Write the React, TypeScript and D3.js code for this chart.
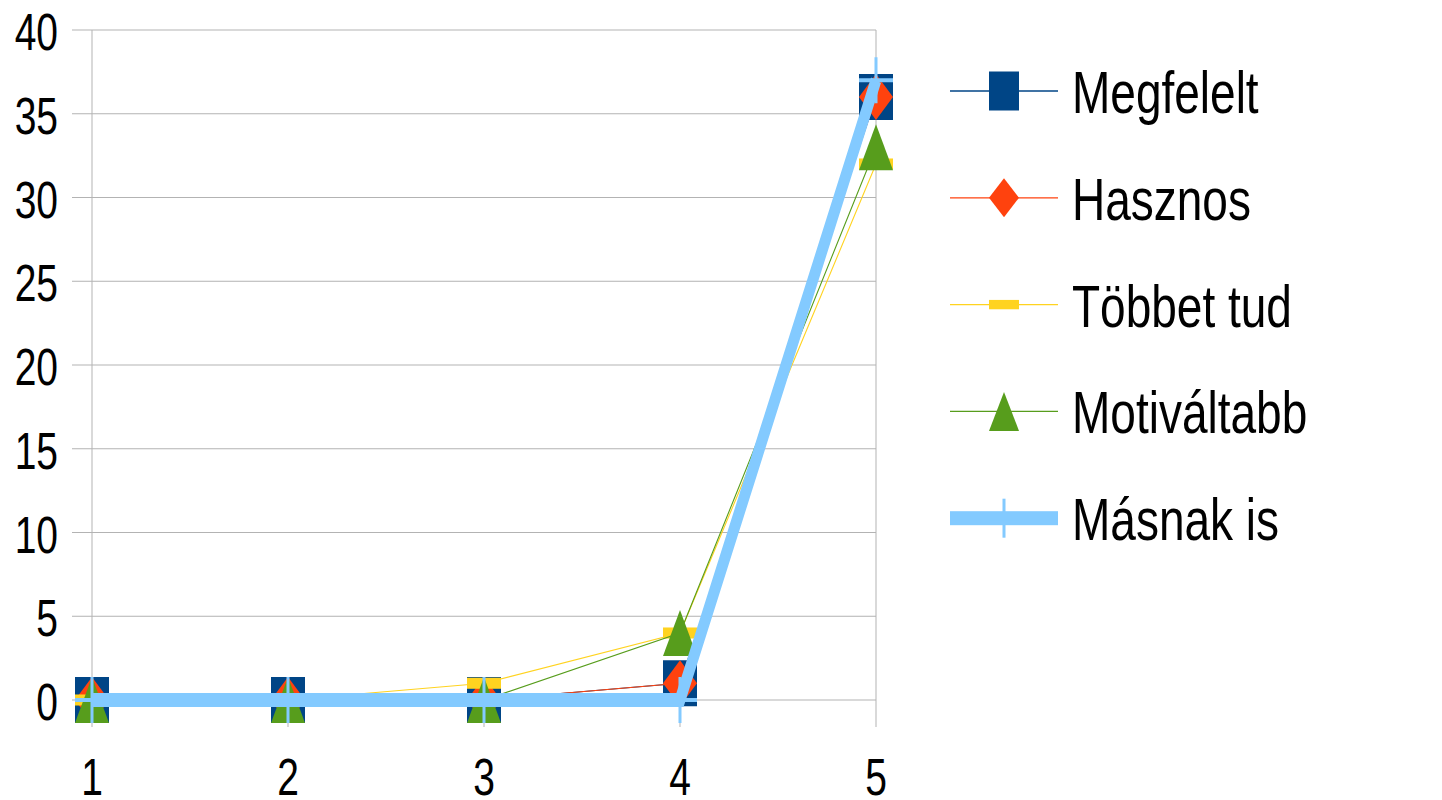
import React from "react";
import * as d3 from "d3";

const categories = ["1", "2", "3", "4", "5"];
const yTicks = [0, 5, 10, 15, 20, 25, 30, 35, 40];
const seriesNames = ["Megfelelt", "Hasznos", "Többet tud", "Motiváltabb", "Másnak is"];
const megfelelt = [0, 0, 0, 1, 36];
const hasznos = [0, 0, 0, 1, 36];
const tobbetTud = [0, 0, 1, 4, 32];
const motivaltabb = [0, 0, 0, 4, 33];
const masnakIs = [0, 0, 0, 0, 37];
const colors = ["#004586", "#ff420e", "#ffd320", "#579d1c", "#83caff"];
const markers = ["square", "diamond", "dash", "triangle", "plus"];

const S = 1.31; // vertical stretch
const FONT = "'Liberation Sans', Arial, sans-serif";

function Marker({ type, cx, cy, w, h, color }: any) {
  if (type === "square") return <rect x={cx - w / 2} y={cy - h / 2} width={w} height={h} fill={color} />;
  if (type === "diamond")
    return <polygon points={`${cx},${cy - h / 2} ${cx + w / 2},${cy} ${cx},${cy + h / 2} ${cx - w / 2},${cy}`} fill={color} />;
  if (type === "dash") {
    const dh = h * 0.24;
    return <rect x={cx - w / 2} y={cy - dh / 2} width={w} height={dh} fill={color} />;
  }
  if (type === "triangle")
    return <polygon points={`${cx},${cy - h / 2} ${cx + w / 2},${cy + h / 2} ${cx - w / 2},${cy + h / 2}`} fill={color} />;
  if (type === "plus")
    return (
      <g fill={color}>
        <rect x={cx - 1.5} y={cy - h / 2} width={3} height={h} />
        <rect x={cx - w / 2} y={cy - 2} width={w} height={4} />
      </g>
    );
  return null;
}

export default function App() {
  const data = [megfelelt, hasznos, tobbetTud, motivaltabb, masnakIs];
  const x = d3.scalePoint<string>().domain(categories).range([92, 876]);
  const y = d3.scaleLinear().domain([0, 40]).range([700, 30]);
  const thin = d3
    .line<number>()
    .x((_, i) => x(categories[i]) as number)
    .y((d) => y(d));
  const thick = d3
    .line<number>()
    .x((_, i) => x(categories[i]) as number)
    .y((d) => y(d) / S);

  const legendY = (i: number) => 91 + i * 106.8;
  const grid = "#b3b3b3";

  return (
    <svg
      width={1442}
      height={800}
      style={{ position: "absolute", left: 0, top: 0, background: "#fff" }}
    >
      <rect x={0} y={0} width={1442} height={800} fill="#fff" />
      {yTicks.map((t) => (
        <line key={t} x1={72} x2={876} y1={y(t)} y2={y(t)} stroke={grid} strokeWidth={1} />
      ))}
      <line x1={92} x2={92} y1={30} y2={727} stroke={grid} strokeWidth={1} />
      <line x1={876} x2={876} y1={30} y2={727} stroke={grid} strokeWidth={1} />
      {categories.slice(1, 4).map((c) => (
        <line key={c} x1={x(c)} x2={x(c)} y1={700} y2={727} stroke={grid} strokeWidth={1} />
      ))}
      {yTicks.map((t) => (
        <text
          key={t}
          transform={`translate(58,${y(t) + 20}) scale(1,${S})`}
          textAnchor="end"
          fontFamily={FONT}
          fontSize={39}
          fill="#000"
        >
          {t}
        </text>
      ))}
      {categories.map((c) => (
        <text
          key={c}
          transform={`translate(${x(c)},795) scale(1,${S})`}
          textAnchor="middle"
          fontFamily={FONT}
          fontSize={39}
          fill="#000"
        >
          {c}
        </text>
      ))}
      {data.map((vals, si) => (
        <g key={si}>
          {si < 4 ? (
            <path d={thin(vals) || ""} fill="none" stroke={colors[si]} strokeWidth={1.1} />
          ) : (
            <g transform={`scale(1,${S})`}>
              <path d={thick(vals) || ""} fill="none" stroke={colors[si]} strokeWidth={10.7} strokeLinejoin="miter" />
            </g>
          )}
          {vals.map((v, i) => (
            <Marker key={i} type={markers[si]} cx={x(categories[i])} cy={y(v)} w={34} h={46} color={colors[si]} />
          ))}
        </g>
      ))}
      {seriesNames.map((name, i) => (
        <g key={name}>
          {i < 4 ? (
            <line x1={950} x2={1058} y1={legendY(i)} y2={legendY(i)} stroke={colors[i]} strokeWidth={1.3} />
          ) : (
            <rect x={950} y={legendY(i) - 7} width={108} height={14} fill={colors[i]} />
          )}
          <Marker type={markers[i]} cx={1004} cy={legendY(i)} w={30} h={39} color={colors[i]} />
          <text
            transform={`translate(1072,${legendY(i) + 22}) scale(1,1.28)`}
            fontFamily={FONT}
            fontSize={46}
            fill="#000"
          >
            {name}
          </text>
        </g>
      ))}
    </svg>
  );
}
